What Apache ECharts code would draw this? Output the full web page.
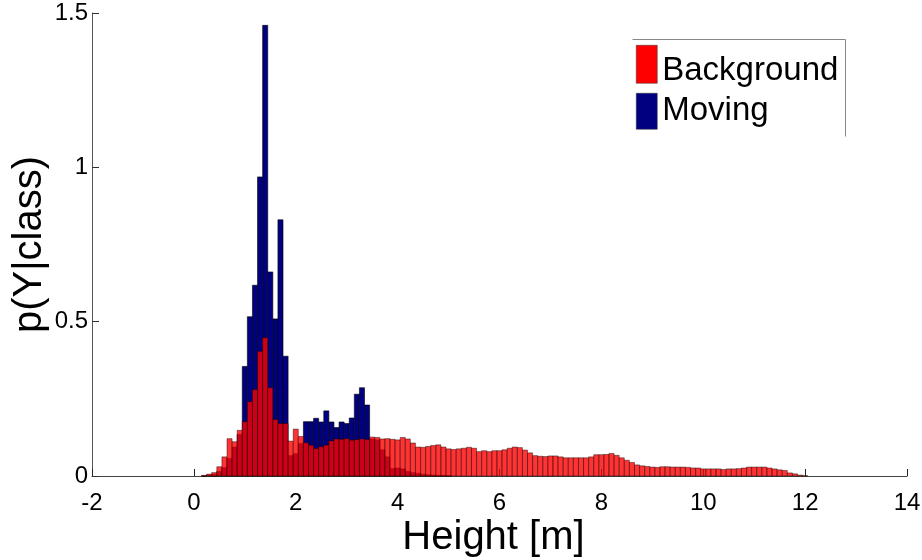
<!DOCTYPE html>
<html>
<head>
<meta charset="utf-8">
<script src="https://cdn.jsdelivr.net/npm/echarts@6/dist/echarts.min.js"></script>
<style>html,body{margin:0;padding:0;background:#fff}#c{width:922px;height:560px}</style>
</head>
<body>
<div id="c"></div>
<script>
// Bin centers [m], bin width 0.1 m
const binWidth = 0.1;
const bgCenters = [0.2,0.3,0.4,0.5,0.6,0.7,0.8,0.9,1.0,1.1,1.2,1.3,1.4,1.5,1.6,1.7,1.8,1.9,2.0,2.1,2.2,2.3,2.4,2.5,2.6,2.7,2.8,2.9,3.0,3.1,3.2,3.3,3.4,3.5,3.6,3.7,3.8,3.9,4.0,4.1,4.2,4.3,4.4,4.5,4.6,4.7,4.8,4.9,5.0,5.1,5.2,5.3,5.4,5.5,5.6,5.7,5.8,5.9,6.0,6.1,6.2,6.3,6.4,6.5,6.6,6.7,6.8,6.9,7.0,7.1,7.2,7.3,7.4,7.5,7.6,7.7,7.8,7.9,8.0,8.1,8.2,8.3,8.4,8.5,8.6,8.7,8.8,8.9,9.0,9.1,9.2,9.3,9.4,9.5,9.6,9.7,9.8,9.9,10.0,10.1,10.2,10.3,10.4,10.5,10.6,10.7,10.8,10.9,11.0,11.1,11.2,11.3,11.4,11.5,11.6,11.7,11.8,11.9,12.0];
const background = [0.002,0.006,0.011,0.030,0.062,0.121,0.111,0.148,0.176,0.241,0.280,0.404,0.448,0.286,0.183,0.170,0.170,0.113,0.152,0.128,0.108,0.100,0.089,0.095,0.100,0.114,0.120,0.119,0.121,0.116,0.118,0.120,0.118,0.126,0.125,0.120,0.121,0.119,0.117,0.125,0.120,0.107,0.094,0.093,0.096,0.099,0.101,0.094,0.088,0.086,0.088,0.090,0.093,0.090,0.079,0.082,0.079,0.082,0.082,0.085,0.090,0.094,0.092,0.084,0.075,0.066,0.064,0.063,0.065,0.065,0.062,0.059,0.059,0.059,0.059,0.059,0.062,0.069,0.069,0.070,0.073,0.067,0.059,0.051,0.044,0.036,0.033,0.031,0.029,0.028,0.030,0.030,0.029,0.029,0.029,0.028,0.026,0.026,0.023,0.023,0.023,0.023,0.021,0.023,0.023,0.024,0.026,0.029,0.029,0.029,0.029,0.026,0.023,0.020,0.018,0.010,0.007,0.003,0.001];
const mvCenters = [0.2,0.3,0.4,0.5,0.6,0.7,0.8,0.9,1.0,1.1,1.2,1.3,1.4,1.5,1.6,1.7,1.8,1.9,2.0,2.1,2.2,2.3,2.4,2.5,2.6,2.7,2.8,2.9,3.0,3.1,3.2,3.3,3.4,3.5,3.6,3.7,3.8,3.9,4.0,4.1,4.2,4.3,4.4,4.5,4.6,4.7,4.8,4.9,5.0];
const moving = [0,0.003,0.006,0.015,0.027,0.057,0.094,0.135,0.355,0.516,0.618,0.969,1.460,0.661,0.509,0.830,0.388,0.066,0.072,0.105,0.176,0.176,0.187,0.175,0.211,0.175,0.157,0.175,0.170,0.188,0.265,0.286,0.230,0.120,0.117,0.085,0.062,0.024,0.026,0.023,0.015,0.011,0.009,0.006,0.004,0.003,0.002,0.002,0.001];
const xTicks = [-2,0,2,4,6,8,10,12,14];
const yTicks = [0,0.5,1,1.5];

function pairs(xs, ys){ return xs.map((x,i)=>[x, ys[i]]); }

function makeRender(fill, stroke){
  return function(params, api){
    const c = api.value(0), v = api.value(1);
    const p0 = api.coord([c - binWidth/2, v]);
    const p1 = api.coord([c + binWidth/2, 0]);
    return {
      type: 'rect',
      shape: {x: p0[0], y: p0[1], width: p1[0]-p0[0], height: p1[1]-p0[1]},
      style: {fill: fill, stroke: stroke, lineWidth: 0.7}
    };
  };
}

const chart = echarts.init(document.getElementById('c'), null, {renderer:'canvas'});
const FONT = 'Liberation Sans, Arial, Helvetica, sans-serif';
const legendCommon = {
  orient: 'vertical', padding: 0, icon: 'rect', itemWidth: 21, itemGap: 10,
  itemStyle: {borderColor: '#333', borderWidth: 0.5}
};
chart.setOption({
  animation: false,
  backgroundColor: '#fff',
  textStyle: {fontFamily: FONT, color: '#000'},
  grid: {left: 92, right: 15, top: 13, bottom: 84, containLabel: false, outerBoundsMode: 'none'},
  xAxis: {
    type: 'value', min: xTicks[0], max: xTicks[xTicks.length-1], interval: 2,
    axisLine: {show: true, onZero: false, lineStyle: {color: '#444', width: 1}},
    axisTick: {show: true, inside: true, length: 7, lineStyle: {color: '#222'}},
    splitLine: {show: false},
    axisLabel: {fontSize: 24, color: '#000', margin: 15, fontFamily: FONT},
    name: 'Height [m]', nameLocation: 'middle', nameGap: 42, nameMoveOverlap: false,
    nameTextStyle: {fontSize: 40, color: '#000', fontFamily: FONT, padding: [0,12,0,0]}
  },
  yAxis: {
    type: 'value', min: yTicks[0], max: yTicks[yTicks.length-1], interval: 0.5,
    axisLine: {show: true, onZero: false, lineStyle: {color: '#555', width: 1}},
    axisTick: {show: true, inside: true, length: 7, lineStyle: {color: '#333'}},
    splitLine: {show: false},
    axisLabel: {fontSize: 24, color: '#000', margin: 4, fontFamily: FONT},
    name: 'p(Y|class)', nameLocation: 'middle', nameGap: 42, nameMoveOverlap: false,
    nameTextStyle: {fontSize: 40, color: '#000', fontFamily: FONT}
  },
  legend: [
    Object.assign({}, legendCommon, {
      left: 636, top: 45, itemHeight: 38,
      formatter: '{t|{name}}',
      textStyle: {fontSize: 33, color: '#000', fontFamily: FONT,
        rich: {t: {fontSize: 33, fontFamily: FONT, color: '#000', padding: [14,0,0,0]}}},
      data: ['Background']
    }),
    Object.assign({}, legendCommon, {
      left: 636, top: 93, itemHeight: 36,
      formatter: '{t|{name}}',
      textStyle: {fontSize: 33, color: '#000', fontFamily: FONT,
        rich: {t: {fontSize: 33, fontFamily: FONT, color: '#000', padding: [0,0,0,0]}}},
      data: ['Moving']
    })
  ],
  graphic: [
    {type: 'polyline', shape: {points: [[632.5,39.5],[845.5,39.5],[845.5,136.5]]}, style: {stroke: '#888', lineWidth: 1, fill: null}, z: 10}
  ],
  series: [
    {name: 'Moving', type: 'custom', data: pairs(mvCenters, moving), itemStyle: {color: '#000080'},
     renderItem: makeRender('#000080', 'rgba(0,0,0,0.85)'), encode: {x: 0, y: 1}},
    {name: 'Background', type: 'custom', data: pairs(bgCenters, background), itemStyle: {color: '#ff0000'},
     renderItem: makeRender('rgba(255,0,0,0.8)', 'rgba(0,0,0,0.6)'), encode: {x: 0, y: 1}}
  ]
});
</script>
</body>
</html>
